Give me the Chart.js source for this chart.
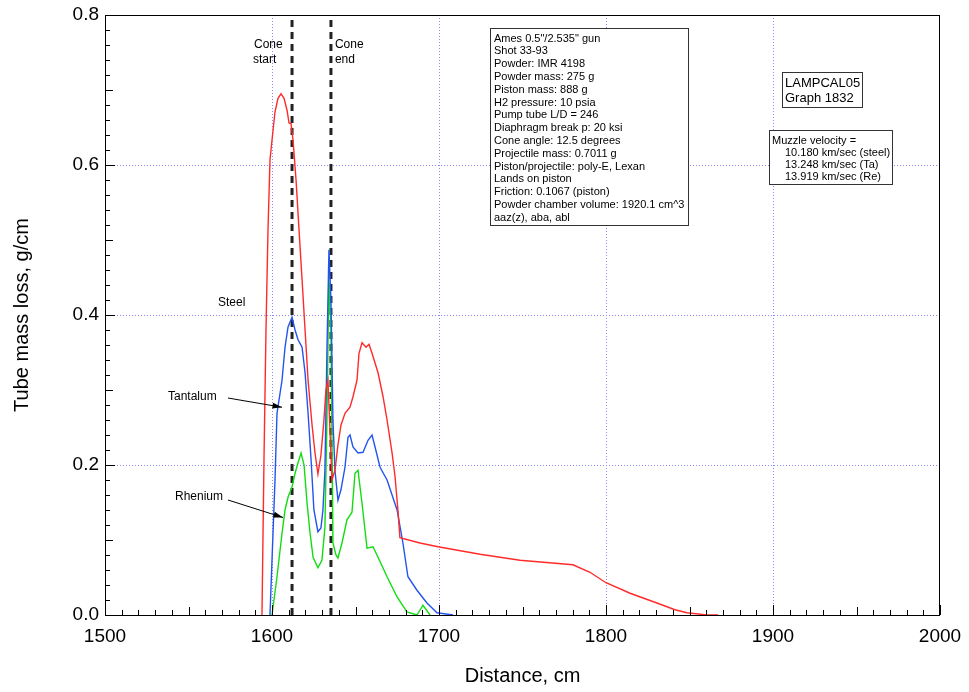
<!DOCTYPE html>
<html>
<head>
<meta charset="utf-8">
<script src="https://cdn.jsdelivr.net/npm/chart.js"></script>
<style>
  html, body { margin: 0; padding: 0; background: #fff; }
  #wrap { width: 969px; height: 692px; position: relative; }
</style>
</head>
<body>
<div id="wrap"><canvas id="chart"></canvas></div>
<script>
// tube mass loss vs distance, three barrel materials

const steelX = [1594.0, 1595.2, 1596.4, 1597.6, 1598.8, 1600.0, 1601.8, 1603.6, 1605.4, 1607.2, 1609.0, 1610.2, 1611.4, 1612.6, 1614.4, 1616.2, 1618.0, 1619.8, 1621.6, 1624.0, 1625.7, 1627.5, 1629.3, 1631.1, 1632.3, 1633.5, 1634.7, 1635.9, 1637.7, 1639.5, 1641.3, 1643.7, 1646.7, 1648.5, 1650.9, 1652.1, 1653.9, 1656.3, 1658.1, 1659.9, 1663.5, 1666.5, 1668.9, 1671.9, 1673.7, 1675.4, 1676.6, 1688.6, 1699.4, 1724.6, 1748.5, 1780.2, 1790.4, 1800.0, 1814.4, 1830.5, 1841.3, 1848.5, 1860.5, 1867.1]
const steelY = [0.000, 0.207, 0.380, 0.513, 0.607, 0.633, 0.671, 0.689, 0.695, 0.689, 0.673, 0.656, 0.655, 0.633, 0.580, 0.513, 0.447, 0.380, 0.313, 0.253, 0.217, 0.188, 0.213, 0.260, 0.300, 0.313, 0.247, 0.180, 0.193, 0.227, 0.253, 0.269, 0.277, 0.291, 0.313, 0.349, 0.363, 0.357, 0.361, 0.349, 0.323, 0.291, 0.260, 0.216, 0.184, 0.140, 0.103, 0.096, 0.091, 0.081, 0.073, 0.067, 0.057, 0.043, 0.029, 0.016, 0.007, 0.003, 0.000, 0.000]

const tantalumX = [1598.8, 1600.0, 1601.8, 1603.0, 1606.0, 1607.8, 1609.6, 1612.0, 1613.8, 1615.6, 1618.0, 1619.8, 1621.6, 1623.4, 1625.1, 1627.5, 1629.3, 1630.5, 1631.7, 1632.9, 1634.1, 1635.3, 1636.5, 1637.7, 1639.5, 1641.3, 1643.7, 1645.5, 1646.7, 1648.5, 1651.5, 1654.5, 1657.5, 1659.9, 1661.7, 1664.7, 1668.9, 1674.9, 1678.4, 1681.4, 1686.8, 1692.8, 1698.8, 1708.4]
const tantalumY = [0.000, 0.073, 0.180, 0.269, 0.313, 0.357, 0.384, 0.397, 0.380, 0.367, 0.357, 0.323, 0.269, 0.207, 0.140, 0.111, 0.116, 0.140, 0.193, 0.353, 0.487, 0.420, 0.260, 0.193, 0.153, 0.167, 0.197, 0.237, 0.240, 0.224, 0.216, 0.217, 0.233, 0.240, 0.224, 0.197, 0.180, 0.140, 0.096, 0.051, 0.033, 0.016, 0.003, 0.000]

const rheniumX = [1600.0, 1603.0, 1606.0, 1607.8, 1609.6, 1612.0, 1613.8, 1615.6, 1617.4, 1619.2, 1621.0, 1622.8, 1624.6, 1627.5, 1629.9, 1631.7, 1632.9, 1634.1, 1635.3, 1636.5, 1638.3, 1639.5, 1641.9, 1644.9, 1647.9, 1649.7, 1651.5, 1653.9, 1656.9, 1660.5, 1663.5, 1668.9, 1674.9, 1680.8, 1686.8, 1690.4, 1694.6]
const rheniumY = [0.000, 0.051, 0.109, 0.140, 0.157, 0.171, 0.189, 0.203, 0.216, 0.200, 0.149, 0.109, 0.077, 0.063, 0.073, 0.117, 0.260, 0.449, 0.380, 0.096, 0.080, 0.076, 0.096, 0.127, 0.137, 0.189, 0.193, 0.149, 0.089, 0.091, 0.077, 0.051, 0.024, 0.004, 0.000, 0.013, 0.000]

const coneStart = 1612.0
const coneEnd = 1635.3

const xTicks = [1500, 1600, 1700, 1800, 1900, 2000]
const yTicks = [0.0, 0.2, 0.4, 0.6, 0.8]

const runInfo = [
  'Ames 0.5"/2.535" gun', 'Shot 33-93', 'Powder: IMR 4198', 'Powder mass: 275 g',
  'Piston mass: 888 g', 'H2 pressure: 10 psia', 'Pump tube L/D = 246',
  'Diaphragm break p: 20 ksi', 'Cone angle: 12.5 degrees', 'Projectile mass: 0.7011 g',
  'Piston/projectile: poly-E, Lexan', 'Lands on piston', 'Friction: 0.1067 (piston)',
  'Powder chamber volume: 1920.1 cm^3', 'aaz(z), aba, abl'
]
const graphId = ['LAMPCAL05', 'Graph 1832']
const muzzle = ['Muzzle velocity =', '10.180 km/sec (steel)', '13.248 km/sec (Ta)', '13.919 km/sec (Re)']

const FONT = '"Liberation Sans", Arial, Helvetica, sans-serif'

function pts(xs, ys) { return xs.map((x, i) => ({ x, y: ys[i] })) }

function series(label, xs, ys, color) {
  return { label, data: pts(xs, ys), borderColor: color, borderWidth: 1.4, pointRadius: 0, tension: 0, fill: false }
}

function coneLine(x) {
  return { label: 'cone', data: [{ x, y: 0 }, { x, y: 0.8 }], borderColor: '#222', borderWidth: 3, borderDash: [7, 5], pointRadius: 0 }
}

// inward ticks, full frame, text boxes and labels
const decor = {
  id: 'decor',
  afterDraw(chart) {
    const { ctx, chartArea: a, scales: { x, y } } = chart
    ctx.save()
    ctx.strokeStyle = '#000'
    ctx.lineWidth = 1
    ctx.strokeRect(a.left + 0.5, a.top + 0.5, a.right - a.left - 1, a.bottom - a.top)

    ctx.beginPath()
    for (let v = 1500; v <= 2000; v += 10) {
      const px = Math.round(x.getPixelForValue(v)) + 0.5
      const len = v % 100 === 0 ? 10 : v % 50 === 0 ? 8 : 5
      ctx.moveTo(px, a.bottom); ctx.lineTo(px, a.bottom - len)
    }
    for (let i = 0; i <= 40; i++) {
      const v = i * 0.02
      const py = Math.round(y.getPixelForValue(v)) + 0.5
      const len = i % 10 === 0 ? 10 : i % 5 === 0 ? 8 : 5
      ctx.moveTo(a.left, py); ctx.lineTo(a.left + len, py)
    }
    ctx.stroke()

    ctx.fillStyle = '#000'
    ctx.textBaseline = 'middle'

    // cone labels
    ctx.font = '12px ' + FONT
    const ce = x.getPixelForValue(coneEnd)
    ctx.textAlign = 'left'
    ctx.fillText('Cone', 254, 45)
    ctx.fillText('start', 253, 60)
    ctx.fillText('Cone', ce + 4, 45)
    ctx.fillText('end', ce + 4, 60)

    // material labels
    ctx.fillText('Steel', 218, 303)
    ctx.fillText('Tantalum', 168, 397)
    ctx.fillText('Rhenium', 175, 497)
    arrow(ctx, 228, 398, x.getPixelForValue(1606.0), y.getPixelForValue(0.277))
    arrow(ctx, 228, 500, x.getPixelForValue(1606.6), y.getPixelForValue(0.130))

    // run info box
    box(ctx, 490.5, 28.5, 198, 197)
    ctx.font = '11px ' + FONT
    runInfo.forEach((t, i) => ctx.fillText(t, 494, 38.5 + i * 12.8))

    box(ctx, 782.5, 72.5, 80, 35)
    ctx.font = '13px ' + FONT
    graphId.forEach((t, i) => ctx.fillText(t, 785, 83 + i * 15))

    box(ctx, 769.5, 130.5, 123, 54)
    ctx.font = '11px ' + FONT
    muzzle.forEach((t, i) => ctx.fillText(t, i === 0 ? 772 : 785, 141 + i * 12))
    ctx.restore()
  }
}

function box(ctx, l, t, w, h) {
  ctx.fillStyle = '#fff'
  ctx.fillRect(l, t, w, h)
  ctx.strokeStyle = '#333'
  ctx.lineWidth = 1
  ctx.strokeRect(l, t, w, h)
  ctx.fillStyle = '#000'
}

function arrow(ctx, x0, y0, x1, y1) {
  ctx.strokeStyle = '#000'
  ctx.lineWidth = 1
  ctx.beginPath(); ctx.moveTo(x0, y0); ctx.lineTo(x1, y1); ctx.stroke()
  const ang = Math.atan2(y1 - y0, x1 - x0)
  ctx.beginPath()
  ctx.moveTo(x1, y1)
  ctx.lineTo(x1 - 10 * Math.cos(ang - 0.3), y1 - 10 * Math.sin(ang - 0.3))
  ctx.lineTo(x1 - 10 * Math.cos(ang + 0.3), y1 - 10 * Math.sin(ang + 0.3))
  ctx.closePath(); ctx.fill()
}

const gridColor = (c, edge) => (c.tick && (c.tick.value === edge[0] || c.tick.value === edge[1])) ? 'rgba(0,0,0,0)' : '#8a8aff'

new Chart(document.getElementById('chart'), {
  type: 'line',
  data: {
    datasets: [
      series('Steel', steelX, steelY, '#ff2a2a'),
      series('Tantalum', tantalumX, tantalumY, '#2255ee'),
      series('Rhenium', rheniumX, rheniumY, '#11dd11'),
      coneLine(coneStart),
      coneLine(coneEnd)
    ]
  },
  options: {
    responsive: true,
    maintainAspectRatio: false,
    animation: false,
    layout: { padding: { top: 15, right: 29, bottom: 2, left: 0 } },
    plugins: { legend: { display: false }, tooltip: { enabled: false } },
    scales: {
      x: {
        type: 'linear', min: 1500, max: 2000,
        afterBuildTicks: s => { s.ticks = xTicks.map(v => ({ value: v })) },
        afterFit: s => { s.height = 75 },
        grid: { drawTicks: true, tickLength: 10, tickColor: 'rgba(0,0,0,0)', color: c => gridColor(c, [1500, 2000]) },
        border: { display: false, dash: [1, 2] },
        ticks: { padding: 0, color: '#000', font: { family: FONT, size: 19 }, callback: v => String(v) },
        title: { display: true, text: 'Distance, cm', color: '#000', font: { family: FONT, size: 20 }, padding: { top: 0, bottom: 2 } }
      },
      y: {
        type: 'linear', min: 0, max: 0.8,
        afterBuildTicks: s => { s.ticks = yTicks.map(v => ({ value: v })) },
        afterFit: s => { s.width = 105 },
        grid: { drawTicks: true, tickLength: 6, tickColor: 'rgba(0,0,0,0)', color: c => gridColor(c, [0, 0.8]) },
        border: { display: false, dash: [1, 2] },
        ticks: { padding: 0, color: '#000', font: { family: FONT, size: 19 }, callback: v => v.toFixed(1) },
        title: { display: true, text: 'Tube mass loss, g/cm', color: '#000', font: { family: FONT, size: 20 }, padding: { top: 10, bottom: 0 } }
      }
    }
  },
  plugins: [decor]
})
</script>
</body>
</html>
